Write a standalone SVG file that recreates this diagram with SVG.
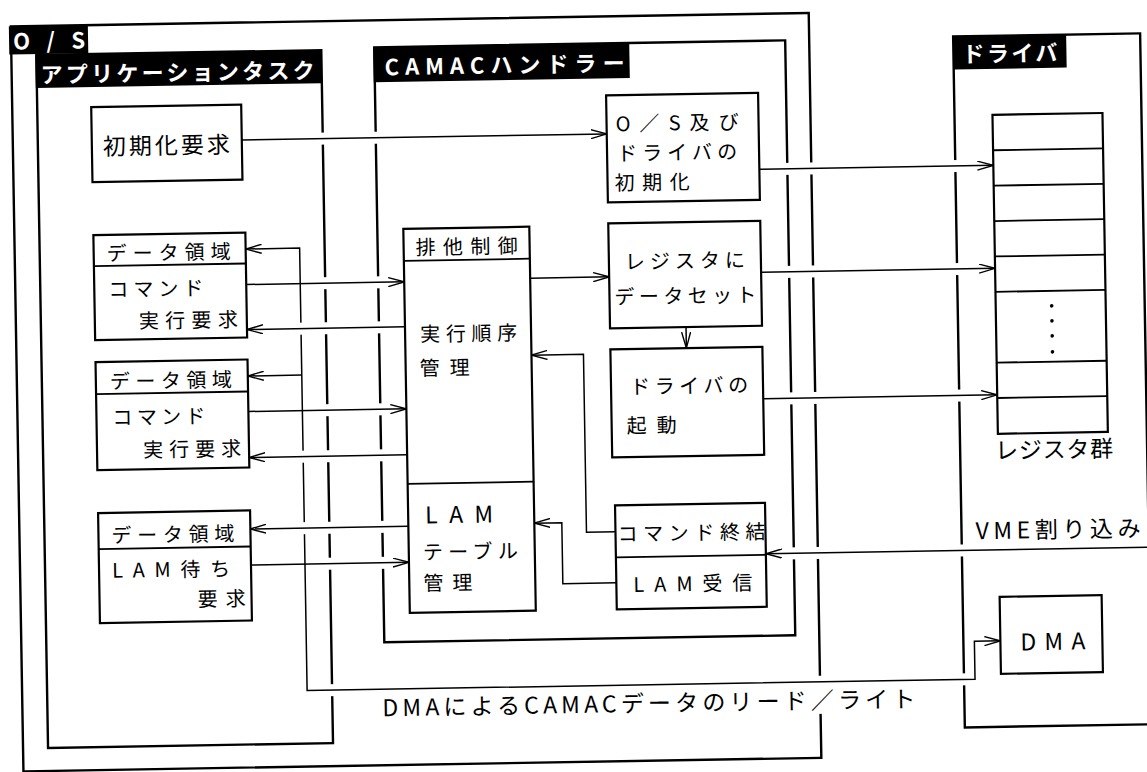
<svg xmlns="http://www.w3.org/2000/svg" width="1147" height="772" viewBox="0 0 1147 772">
<defs>
<style>
.c{fill:none;stroke:#000;stroke-width:2.4}
.n{fill:#fff;stroke:#000;stroke-width:2.2}
.d{fill:none;stroke:#000;stroke-width:1.8}
.lb{fill:#000}
.t{font-family:'Noto Sans CJK JP','Noto Sans CJK SC',sans-serif;font-size:20px;fill:#000}
.L{font-size:23px}
.w{font-family:'Noto Sans CJK JP','Noto Sans CJK SC',sans-serif;font-size:22px;font-weight:bold;fill:#fff}
.k{fill:none;stroke:#000;stroke-width:1.5}
.h{fill:none;stroke:#fff;stroke-width:12}
</style>
<marker id="a" viewBox="0 0 16 10" refX="16" refY="5" markerWidth="16" markerHeight="10" markerUnits="userSpaceOnUse" orient="auto-start-reverse"><path d="M0,0.5 L16,5 L0,9.5" fill="none" stroke="#000" stroke-width="1.4"/></marker>
</defs>
<rect width="1147" height="772" fill="#fff"/>
<g transform="rotate(-0.97 573 386)">
<g id="os">
<rect class="c" x="17" y="17" width="798" height="745"/>
<rect class="lb" x="15" y="17" width="79" height="28"/>
<text class="w" x="19" y="40" textLength="72" lengthAdjust="spacing">O/S</text>
</g>
<g id="app">
<rect class="c" x="42" y="46" width="285" height="693"/>
<rect class="lb" x="41" y="46" width="286" height="33"/>
<text class="w" x="46" y="74" textLength="274" lengthAdjust="spacing">アプリケーションタスク</text>
</g>
<g id="camac">
<rect class="c" x="380" y="44" width="411" height="595"/>
<rect class="lb" x="379" y="44" width="256" height="35"/>
<text class="w" x="390" y="72" textLength="240" lengthAdjust="spacing">CAMACハンドラー</text>
</g>
<g id="driver">
<rect class="c" x="959" y="43" width="187" height="691"/>
<rect class="lb" x="959" y="43" width="113" height="33"/>
<text class="w" x="968" y="69" textLength="95" lengthAdjust="spacing">ドライバ</text>
</g>
<g id="connectors">
<path class="h" d="M252,134.5H606M768,172.5H992M768,275.5H992M768,402H992M768,557H1150M308,686H964"/>
<path class="h" d="M815,690V718" style="stroke-width:8"/>
<path class="k" d="M248,243.5H302V686H970V648H996" marker-start="url(#a)" marker-end="url(#a)"/>
<path class="h" d="M308,279H400M254,324H400M308,406H400M254,452H400M254,523.5H400M308,559.5H400"/>
<path class="h" d="M254,279H296M254,406H296M254,559.5H296"/>
<path class="k" d="M302,370.5H248" marker-end="url(#a)"/>
<path class="k" d="M246,134.5H611" marker-end="url(#a)"/>
<path class="k" d="M763,172.5H997" marker-end="url(#a)"/>
<path class="k" d="M763,275.5H997" marker-end="url(#a)"/>
<path class="k" d="M763,402H997" marker-end="url(#a)"/>
<path class="k" d="M248,279H406" marker-end="url(#a)"/>
<path class="k" d="M406,324H248" marker-end="url(#a)"/>
<path class="k" d="M248,406H406" marker-end="url(#a)"/>
<path class="k" d="M406,452H248" marker-end="url(#a)"/>
<path class="k" d="M406,523.5H248" marker-end="url(#a)"/>
<path class="k" d="M248,559.5H406" marker-end="url(#a)"/>
<path class="k" d="M532,277.5H611" marker-end="url(#a)"/>
<path class="k" d="M687,329V350" marker-end="url(#a)"/>
<path class="k" d="M613,532.5H584V354.5H532" marker-end="url(#a)"/>
<path class="k" d="M613,583.5H559.5V522.5H532" marker-end="url(#a)"/>
<path class="k" d="M1150,557H763" marker-end="url(#a)"/>
<text class="t L" x="973" y="546" textLength="165" lengthAdjust="spacing">VME割り込み</text>
<text class="t L" x="377" y="713" textLength="533" lengthAdjust="spacing">DMAによるCAMACデータのリード／ライト</text>
</g>
<g id="init_req">
<rect class="n" x="96" y="99" width="150" height="75"/>
<text class="t L" x="107" y="147" textLength="127" lengthAdjust="spacing">初期化要求</text>
</g>
<g id="os_init">
<rect class="n" x="611" y="96" width="152" height="107"/>
<text class="t" x="620" y="132" textLength="123" lengthAdjust="spacing">O／S及び</text>
<text class="t" x="621" y="161.5" textLength="120" lengthAdjust="spacing">ドライバの</text>
<text class="t" x="618" y="191" textLength="75" lengthAdjust="spacing">初期化</text>
</g>
<g id="cmd_req1">
<rect class="n" x="96" y="227" width="152" height="105"/>
<path class="d" d="M96,258H248"/>
<text class="t" x="109" y="253" textLength="124" lengthAdjust="spacing">データ領域</text>
<text class="t" x="110" y="289" textLength="95" lengthAdjust="spacing">コマンド</text>
<text class="t" x="140" y="321" textLength="99" lengthAdjust="spacing">実行要求</text>
</g>
<g id="cmd_req2">
<rect class="n" x="96" y="354" width="152" height="108"/>
<path class="d" d="M96,386H248"/>
<text class="t" x="110" y="381" textLength="122" lengthAdjust="spacing">データ領域</text>
<text class="t" x="112" y="417" textLength="93" lengthAdjust="spacing">コマンド</text>
<text class="t" x="142" y="450" textLength="98" lengthAdjust="spacing">実行要求</text>
</g>
<g id="lam_req">
<rect class="n" x="96" y="505" width="152" height="110"/>
<path class="d" d="M96,541H248"/>
<text class="t" x="109" y="535" textLength="123" lengthAdjust="spacing">データ領域</text>
<text class="t" x="109" y="570" textLength="118" lengthAdjust="spacing">LAM待ち</text>
<text class="t" x="194" y="600" textLength="48" lengthAdjust="spacing">要求</text>
</g>
<g id="exec_mgr">
<rect class="n" x="406" y="226" width="126" height="384"/>
<path class="d" d="M406,258H532M406,481H532"/>
<text class="t" x="418" y="252" textLength="102" lengthAdjust="spacing">排他制御</text>
<text class="t" x="421" y="339" textLength="97" lengthAdjust="spacing">実行順序</text>
<text class="t" x="420" y="373" textLength="50" lengthAdjust="spacing">管理</text>
<text class="t L" x="423" y="521" textLength="68" lengthAdjust="spacing">LAM</text>
<text class="t" x="420" y="557" textLength="95" lengthAdjust="spacing">テーブル</text>
<text class="t" x="420" y="588" textLength="49" lengthAdjust="spacing">管理</text>
</g>
<g id="reg_set">
<rect class="n" x="611" y="224" width="152" height="105"/>
<text class="t" x="627" y="270" textLength="120" lengthAdjust="spacing">レジスタに</text>
<text class="t" x="616" y="305" textLength="142" lengthAdjust="spacing">データセット</text>
</g>
<g id="drv_start">
<rect class="n" x="611" y="350" width="152" height="108"/>
<text class="t" x="630" y="395" textLength="118" lengthAdjust="spacing">ドライバの</text>
<text class="t" x="626" y="434" textLength="50" lengthAdjust="spacing">起動</text>
</g>
<g id="cmd_end">
<rect class="n" x="613" y="506" width="150" height="104"/>
<path class="d" d="M613,558H763"/>
<text class="t" x="615" y="542" textLength="148" lengthAdjust="spacing">コマンド終結</text>
<text class="t" x="630" y="593" textLength="119" lengthAdjust="spacing">LAM受信</text>
</g>
<g id="registers">
<rect class="n" x="997" y="122" width="110" height="319"/>
<path class="d" d="M997,157.4H1107M997,192.8H1107M997,228.2H1107M997,263.6H1107M997,299H1107M997,369.8H1107M997,405.2H1107"/>
<circle cx="1053" cy="314" r="1.8"/>
<circle cx="1053" cy="329" r="1.8"/>
<circle cx="1053" cy="344" r="1.8"/>
<circle cx="1053" cy="360" r="1.8"/>
<text class="t L" x="994" y="466" textLength="118" lengthAdjust="spacing">レジスタ群</text>
</g>
<g id="dma">
<rect class="n" x="996" y="604" width="102" height="77"/>
<text class="t L" x="1016" y="658" textLength="65" lengthAdjust="spacing">DMA</text>
</g>
</g>
</svg>
